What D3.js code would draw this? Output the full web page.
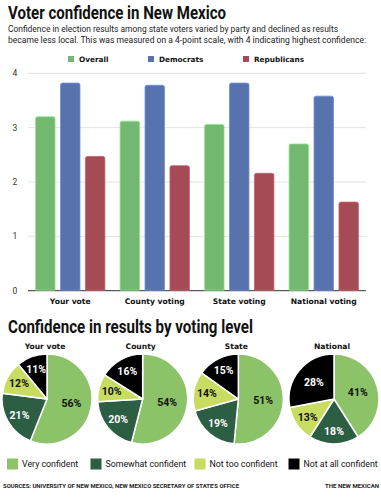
<!DOCTYPE html>
<html>
<head>
<meta charset="utf-8">
<script src="https://cdn.jsdelivr.net/npm/d3@7"></script>
<style>
  body { margin: 0; background: #fff; }
  svg { display: block; }
  .cond { font-family: "Liberation Sans Narrow", "Roboto", sans-serif; font-weight: 700; }
  .body { font-family: "Roboto", "Liberation Sans", sans-serif; }
  .lab { font-family: "DejaVu Sans", "Verdana", sans-serif; font-weight: 700; }
</style>
</head>
<body>
<script>
// bar chart data
var levels = ["Your vote", "County voting", "State voting", "National voting"];
var groups = ["Overall", "Democrats", "Republicans"];
var overall = [3.20, 3.12, 3.06, 2.70];
var democrats = [3.82, 3.78, 3.82, 3.58];
var republicans = [2.47, 2.30, 2.16, 1.63];
var yTicks = [0, 1, 2, 3, 4];
var barColors = ["#73b871", "#5872ad", "#a54b55"];

// pie data
var pieTitles = ["Your vote", "County", "State", "National"];
var answers = ["Very confident", "Somewhat confident", "Not too confident", "Not at all confident"];
var veryConf = [56, 54, 51, 41];
var somewhatConf = [21, 20, 19, 18];
var notTooConf = [12, 10, 14, 13];
var notAtAll = [11, 16, 15, 28];
var pieColors = ["#8cc268", "#2c5e44", "#c9dc62", "#000000"];
var pieText = ["#111", "#fff", "#111", "#fff"];

var W = 381, H = 500;
var svg = d3.select("body").append("svg").attr("width", W).attr("height", H);

// titles
svg.append("text").attr("class", "cond").attr("x", 8).attr("y", 19)
  .attr("font-size", 18).attr("textLength", 218).attr("lengthAdjust", "spacingAndGlyphs")
  .attr("fill", "#111").text("Voter confidence in New Mexico");

var sub = ["Confidence in election results among state voters varied by party and declined as results",
           "became less local. This was measured on a 4-point scale, with 4 indicating highest confidence:"];
svg.selectAll(".sub").data(sub).enter().append("text")
  .attr("class", "body sub").attr("x", 8).attr("y", function(d, i) { return 32 + i * 10.5; })
  .attr("font-size", 8.2).attr("fill", "#222")
  .attr("textLength", function(d, i) { return i == 0 ? 330 : 358; })
  .attr("lengthAdjust", "spacingAndGlyphs")
  .text(function(d) { return d; });

// legend for bars
var legX = [68, 148, 243];
var leg = svg.selectAll(".leg").data(groups).enter().append("g")
  .attr("transform", function(d, i) { return "translate(" + legX[i] + ",59)"; });
leg.append("rect").attr("x", 0).attr("y", -3).attr("width", 6).attr("height", 6)
  .attr("fill", function(d, i) { return barColors[i]; });
leg.append("text").attr("class", "lab").attr("x", 11).attr("dy", "0.35em")
  .attr("font-size", 7.3).attr("fill", "#111").text(function(d) { return d; });

// bar chart
var x0 = d3.scaleBand().domain(levels).range([28, 366]).paddingInner(0.18).paddingOuter(0.09);
var x1 = d3.scaleBand().domain(groups).range([0, x0.bandwidth()]).paddingInner(0.22);
var y = d3.scaleLinear().domain([0, 4]).range([290.7, 73.3]);

svg.selectAll(".grid").data(yTicks).enter().append("line")
  .attr("x1", 28).attr("x2", 366)
  .attr("y1", function(d) { return y(d); }).attr("y2", function(d) { return y(d); })
  .attr("stroke", function(d) { return d == 0 ? "#333" : "#e2e2e2"; })
  .attr("stroke-width", 1);

svg.selectAll(".ytick").data(yTicks).enter().append("text")
  .attr("class", "body").attr("x", 15).attr("y", function(d) { return y(d); })
  .attr("dy", "0.35em").attr("text-anchor", "middle").attr("font-size", 8.5)
  .attr("fill", "#333").text(function(d) { return d; });

var series = [overall, democrats, republicans];
var barData = [];
levels.forEach(function(lv, i) {
  groups.forEach(function(g, j) {
    barData.push({ level: lv, group: g, value: series[j][i], color: barColors[j] });
  });
});

function topRounded(x, yTop, w, yBot, r) {
  return "M" + x + "," + yBot + "V" + (yTop + r) +
    "Q" + x + "," + yTop + " " + (x + r) + "," + yTop +
    "H" + (x + w - r) + "Q" + (x + w) + "," + yTop + " " + (x + w) + "," + (yTop + r) +
    "V" + yBot + "Z";
}

svg.selectAll(".bar").data(barData).enter().append("path")
  .attr("d", function(d) {
    return topRounded(x0(d.level) + x1(d.group), y(d.value), x1.bandwidth(), y(0) - 0.5, 2);
  })
  .attr("fill", function(d) { return d.color; })
  .attr("stroke", function(d) { return d3.color(d.color).brighter(0.6); })
  .attr("stroke-width", 0.8);

svg.selectAll(".xlab").data(levels).enter().append("text")
  .attr("class", "lab").attr("x", function(d) { return x0(d) + x0.bandwidth() / 2; })
  .attr("y", 303.5).attr("text-anchor", "middle").attr("font-size", 7.6)
  .attr("fill", "#111").text(function(d) { return d; });

// second section
svg.append("text").attr("class", "cond").attr("x", 8).attr("y", 333)
  .attr("font-size", 18).attr("textLength", 245).attr("lengthAdjust", "spacingAndGlyphs")
  .attr("fill", "#111").text("Confidence in results by voting level");

var px = d3.scalePoint().domain(pieTitles).range([47, 334]);
var R = 45, cy = 399;
var pie = d3.pie().sort(null);
var arc = d3.arc().innerRadius(0).outerRadius(R);

pieTitles.forEach(function(t, i) {
  var vals = [veryConf[i], somewhatConf[i], notTooConf[i], notAtAll[i]];
  var g = svg.append("g").attr("transform", "translate(" + px(t) + "," + cy + ")");
  g.append("text").attr("class", "lab").attr("x", -2).attr("y", -50)
    .attr("text-anchor", "middle").attr("font-size", 7.6).attr("fill", "#111").text(t);
  var arcs = pie(vals);
  g.selectAll("path").data(arcs).enter().append("path")
    .attr("d", arc)
    .attr("fill", function(d, k) { return pieColors[k]; })
    .attr("stroke", "#fff").attr("stroke-width", 1.5).attr("stroke-linejoin", "round");
  g.selectAll(".pl").data(arcs).enter().append("text")
    .attr("class", "body")
    .attr("transform", function(d) {
      var a = (d.startAngle + d.endAngle) / 2;
      var rr = d.value >= 40 ? R * 0.55 : (d.value >= 25 ? R * 0.58 : R * 0.71);
      return "translate(" + (Math.sin(a) * rr) + "," + (-Math.cos(a) * rr) + ")";
    })
    .attr("dy", "0.36em").attr("text-anchor", "middle")
    .attr("font-size", 10.5).attr("font-weight", 700)
    .attr("fill", function(d, k) { return pieText[k]; })
    .text(function(d) { return d.value + "%"; });
});

// pie legend
var pLegX = [7, 90.5, 194.5, 288.5];
var pleg = svg.selectAll(".pleg").data(answers).enter().append("g")
  .attr("transform", function(d, i) { return "translate(" + pLegX[i] + ",464)"; });
pleg.append("rect").attr("x", 0).attr("y", -5.5).attr("width", 11).attr("height", 11)
  .attr("fill", function(d, i) { return pieColors[i]; });
pleg.append("text").attr("class", "body").attr("x", 15).attr("dy", "0.35em")
  .attr("font-size", 8.8).attr("fill", "#111").text(function(d) { return d; });

// footer
svg.append("text").attr("class", "body").attr("x", 3).attr("y", 487.5)
  .attr("font-size", 6).attr("font-weight", 700).attr("fill", "#222")
  .attr("textLength", 236).attr("lengthAdjust", "spacingAndGlyphs")
  .text("SOURCES: UNIVERSITY OF NEW MEXICO, NEW MEXICO SECRETARY OF STATE'S OFFICE");
svg.append("text").attr("class", "body").attr("x", 379).attr("y", 487.5)
  .attr("text-anchor", "end").attr("font-size", 6).attr("font-weight", 700).attr("fill", "#222")
  .attr("textLength", 54).attr("lengthAdjust", "spacingAndGlyphs")
  .text("THE NEW MEXICAN");
</script>
</body>
</html>
